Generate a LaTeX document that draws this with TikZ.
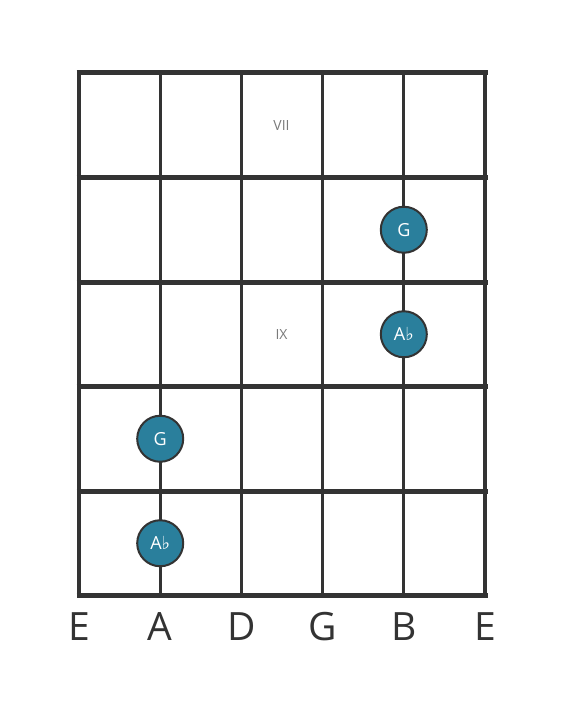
\documentclass[tikz,border=0pt]{standalone}
\usepackage{fontspec}
\setmainfont{Open Sans}
\newfontfamily\symfont{DejaVu Sans}
\usepackage{tikz}
\usetikzlibrary{positioning}
\definecolor{gridgray}{HTML}{333333}
\definecolor{noteteal}{HTML}{2A7F9C}
\definecolor{fretgray}{HTML}{7A7A7A}
\newcommand{\flatsign}{{\symfont\fontsize{18}{18}\selectfont ♭}}

\begin{document}
\begin{tikzpicture}[x=1pt,y=-1pt,
        note/.style={circle,fill=noteteal,draw=gridgray,line width=2pt,minimum size=46pt,inner sep=0pt,text=white,font=\fontsize{18}{18}\selectfont},
        fretlabel/.style={text=fretgray,font=\fontsize{14}{14}\selectfont},
        strlabel/.style={text=gridgray,font=\fontsize{39}{39}\selectfont}
    ]
    \useasboundingbox (0,0) rectangle (566,711);
    %--- strings ---
    \foreach \x [count=\i] in {79,160.2,241.4,322.6,403.8,485}
        \draw[gridgray,line width=3pt] (\x,73) -- (\x,595.5);
    \draw[gridgray,line width=4pt] (79,73) -- (79,595.5);
    \draw[gridgray,line width=4pt] (485,73) -- (485,595.5);
    %--- frets ---
    \foreach \y in {73,177.5,282,386.5,491,595.5}
        \draw[gridgray,line width=5pt] (76.5,\y) -- (487.5,\y);

    %--- fret numbers ---
    \node[fretlabel] (f7) at (281.5,126) {VII};
    \node[fretlabel] (f9) at (281.5,335) {IX};

    %--- notes ---
    \node[note] (nG1) at (403.8,229.75) {G};
    \node[note] (nA1) at (403.8,334.25) {A\flatsign};
    \node[note] (nG2) at (160.2,438.75) {G};
    \node[note] (nA2) at (160.2,543.25) {A\flatsign};

    %--- string names ---
    \node[strlabel] (sE1) at (79,627) {E};
    \node[strlabel] (sA) at (160.2,627) {A};
    \node[strlabel] (sD) at (241.4,627) {D};
    \node[strlabel] (sG) at (322.6,627) {G};
    \node[strlabel] (sB) at (403.8,627) {B};
    \node[strlabel] (sE2) at (485,627) {E};
\end{tikzpicture}
\end{document}
